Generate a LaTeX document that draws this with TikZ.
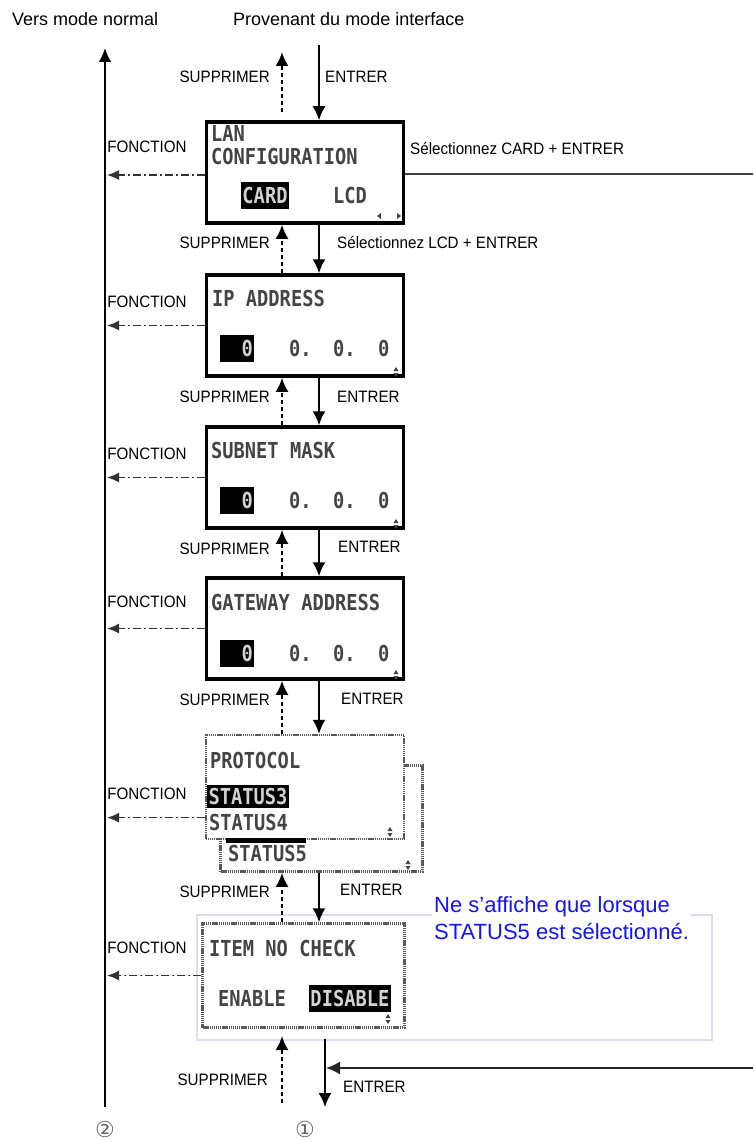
\documentclass[tikz,border=0pt]{standalone}
\usepackage{fontspec}
\usetikzlibrary{arrows.meta}
\setmainfont{Liberation Sans}
\newfontfamily\labfont[FakeStretch=0.92]{Liberation Sans}
\newfontfamily\lcdfont[FakeStretch=0.85]{DejaVu Sans Mono}
\newfontfamily\symfont{DejaVu Sans}
\definecolor{lcdgray}{HTML}{444444}
\definecolor{hltext}{HTML}{D2D2D2}
\definecolor{notecolor}{HTML}{1414F0}
\definecolor{lavender}{HTML}{DCDCF4}
\tikzset{
  title/.style={font=\fontsize{18}{20}\selectfont, inner sep=0pt},
  lab/.style={font=\labfont\fontsize{16.5}{18}\selectfont, inner sep=0pt},
  lcd/.style={font=\lcdfont\bfseries\fontsize{22}{24}\selectfont, text=lcdgray, inner sep=0pt},
  hl/.style={lcd, fill=black, text=hltext, inner xsep=1.5pt, inner ysep=0pt, minimum height=27pt},
  panel/.style={draw, line width=3.5pt, fill=white, minimum width=197pt, minimum height=101pt},
  dotpanel/.style={draw=black!65, line width=2.5pt, dash pattern=on 1.2pt off 0.7pt, fill=white},
  bigtip/.style={-{Latex[length=14pt,width=13pt]}},
  enter/.style={bigtip, line width=1.8pt},
  back/.style={bigtip, line width=2.2pt, dash pattern=on 4pt off 3pt},
  func/.style={-{Latex[length=12pt,width=10pt]}, line width=1.6pt, draw=black!80, dash pattern=on 8pt off 3pt on 2pt off 3pt},
  circnum/.style={font=\symfont\fontsize{22}{22}\selectfont, text=black!60, inner sep=0pt},
  updown/.pic={\fill[lcdgray] (-2.5,-1) -- (2.5,-1) -- (0,-5) -- cycle;
    \fill[lcdgray] (-2.5,1) -- (2.5,1) -- (0,5) -- cycle;},
  leftright/.pic={\fill[lcdgray] (-8,-3) -- (-8,3) -- (-12,0) -- cycle;
    \fill[lcdgray] (8,-3) -- (8,3) -- (12,0) -- cycle;}
}
\begin{document}
\begin{tikzpicture}[x=1pt,y=-1pt]
\useasboundingbox (0,0) rectangle (753,1142);

\coordinate (ex) at (319,0);
\coordinate (sx) at (282,0);
\coordinate (bx) at (325,0);
\coordinate (fx) at (107,0);

\draw[lavender, line width=1.5pt] (197,915) rectangle (712,1040);

\node[title, anchor=base west] (tonormal) at (12,26) {Vers mode normal};
\node[title, anchor=base west] (frominterface) at (233,26) {Provenant du mode interface};

\coordinate (maintop) at (105,48);
\coordinate (mainbot) at (105,1107);
\draw[bigtip, line width=2.5pt] (mainbot) -- (maintop);
\node[circnum] (two) at (105,1129) {②};
\node[circnum] (one) at (305,1129) {①};

\node[panel] (lan) at (305,172.5) {};
\node[lcd, anchor=west] (lanA) at (211,133) {LAN};
\node[lcd, anchor=west] (lanB) at (211,156) {CONFIGURATION};
\node[hl] (card) at (265,195.5) {CARD};
\node[lcd] (lcdopt) at (350,195) {LCD};
\pic at (389,216) {leftright};

\node[panel] (ip) at (305,325.5) {};
\node[lcd, anchor=west] (iptitle) at (212,298) {IP ADDRESS};
\node[hl, anchor=west] (ipa) at (220,348.5) {\hspace{20pt}0};
\node[lcd, anchor=west] (ipb) at (289,348) {0.};
\node[lcd, anchor=west] (ipc) at (333,348) {0.};
\node[lcd, anchor=west] (ipd) at (378,348) {0};
\pic at (396,372) {updown};

\node[panel] (subnet) at (305,477.5) {};
\node[lcd, anchor=west] (subtitle) at (211,450) {SUBNET MASK};
\node[hl, anchor=west] (suba) at (220,500.5) {\hspace{20pt}0};
\node[lcd, anchor=west] (subb) at (289,500) {0.};
\node[lcd, anchor=west] (subc) at (333,500) {0.};
\node[lcd, anchor=west] (subd) at (378,500) {0};
\pic at (396,524) {updown};

\node[panel] (gateway) at (305,628.5) {};
\node[lcd, anchor=west] (gwtitle) at (211,602) {GATEWAY ADDRESS};
\node[hl, anchor=west] (gwa) at (220,653.5) {\hspace{20pt}0};
\node[lcd, anchor=west] (gwb) at (289,653) {0.};
\node[lcd, anchor=west] (gwc) at (333,653) {0.};
\node[lcd, anchor=west] (gwd) at (378,653) {0};
\pic at (396,675) {updown};

\node[dotpanel, minimum width=202pt, minimum height=106pt] (protoback) at (321.5,818.5) {};
\node[dotpanel, minimum width=198pt, minimum height=104pt] (proto) at (305,787) {};
\node[lcd, anchor=west] (prototitle) at (210,760) {PROTOCOL};
\node[hl, anchor=west, minimum height=23pt] (st3) at (207,796) {STATUS3};
\node[lcd, anchor=west] (st4) at (209,822) {STATUS4};
\fill (226,838) rectangle (306,843);
\node[lcd, anchor=west] (st5) at (228,853) {STATUS5};
\pic at (390,832) {updown};
\pic at (408,865) {updown};

\node[dotpanel, minimum width=202pt, minimum height=104pt] (item) at (303.5,975.5) {};
\node[lcd, anchor=west] (itemtitle) at (209,948) {ITEM NO CHECK};
\node[lcd] (enable) at (252,998) {ENABLE};
\node[hl, anchor=east] (disable) at (391,998) {DISABLE};
\pic at (388,1019) {updown};

\node[font=\fontsize{22}{27}\selectfont, text=notecolor, fill=white, inner sep=2pt,
  align=left, anchor=north west] (note) at (432,894) {Ne s’affiche que lorsque\\STATUS5 est sélectionné.};

\coordinate (fromtop) at (319,45);
\coordinate (totop) at (282,52);
\draw[enter] (fromtop) -- (lan.north -| ex);
\draw[back, shorten <=8pt] (lan.north -| sx) -- (totop);
\node[lab, anchor=east] (delA) at (270,77) {SUPPRIMER};
\node[lab, anchor=west] (entA) at (325,77) {ENTRER};

\draw[enter] (lan.south -| ex) -- (ip.north -| ex);
\draw[back] (ip.north -| sx) -- (lan.south -| sx);
\node[lab, anchor=east] (delB) at (270,243) {SUPPRIMER};
\node[lab, anchor=west] (entB) at (337,243) {Sélectionnez LCD + ENTRER};

\draw[enter] (ip.south -| ex) -- (subnet.north -| ex);
\draw[back] (subnet.north -| sx) -- (ip.south -| sx);
\node[lab, anchor=east] (delC) at (270,397) {SUPPRIMER};
\node[lab, anchor=west] (entC) at (337,397) {ENTRER};

\draw[enter] (subnet.south -| ex) -- (gateway.north -| ex);
\draw[back] (gateway.north -| sx) -- (subnet.south -| sx);
\node[lab, anchor=east] (delD) at (270,549) {SUPPRIMER};
\node[lab, anchor=west] (entD) at (338,547) {ENTRER};

\draw[enter] (gateway.south -| ex) -- (proto.north -| ex);
\draw[back] (proto.north -| sx) -- (gateway.south -| sx);
\node[lab, anchor=east] (delE) at (270,700) {SUPPRIMER};
\node[lab, anchor=west] (entE) at (341,699) {ENTRER};

\draw[enter] (protoback.south -| ex) -- (item.north -| ex);
\draw[back] (item.north -| sx) -- (protoback.south -| sx);
\node[lab, anchor=east] (delF) at (270,892) {SUPPRIMER};
\node[lab, anchor=west] (entF) at (340,890) {ENTRER};

\coordinate (delstart) at (282,1103);
\coordinate (delend) at (282,1036);
\coordinate (enterend) at (325,1107);
\draw[enter, shorten <=10pt] (item.south -| bx) -- (enterend);
\draw[back] (delstart) -- (delend);
\node[lab, anchor=east] (delG) at (268,1080) {SUPPRIMER};
\node[lab, anchor=west] (entG) at (343,1087) {ENTRER};

\node[lab, anchor=west] (selcard) at (410,149) {Sélectionnez CARD + ENTRER};
\coordinate (cardout) at (753,174);
\draw[line width=1.5pt, black!75] (lan.east |- cardout) -- (cardout);
\coordinate (cardin) at (753,1068);
\coordinate (cardjoin) at (326,1068);
\draw[bigtip, line width=1.5pt, black!85] (cardin) -- (cardjoin);

\node[lab] (fnA) at (147,147) {FONCTION};
\draw[func] (lan.west |- 0,175) -- (fx |- 0,175);
\node[lab] (fnB) at (147,302) {FONCTION};
\draw[func] (ip.west) -- (ip.west -| fx);
\node[lab] (fnC) at (147,454) {FONCTION};
\draw[func] (subnet.west) -- (subnet.west -| fx);
\node[lab] (fnD) at (147,602) {FONCTION};
\draw[func] (gateway.west) -- (gateway.west -| fx);
\node[lab] (fnE) at (147,794) {FONCTION};
\draw[func] (proto.197) -- (proto.197 -| fx);
\node[lab] (fnF) at (147,948) {FONCTION};
\draw[func] (item.west) -- (item.west -| fx);
\end{tikzpicture}
\end{document}
